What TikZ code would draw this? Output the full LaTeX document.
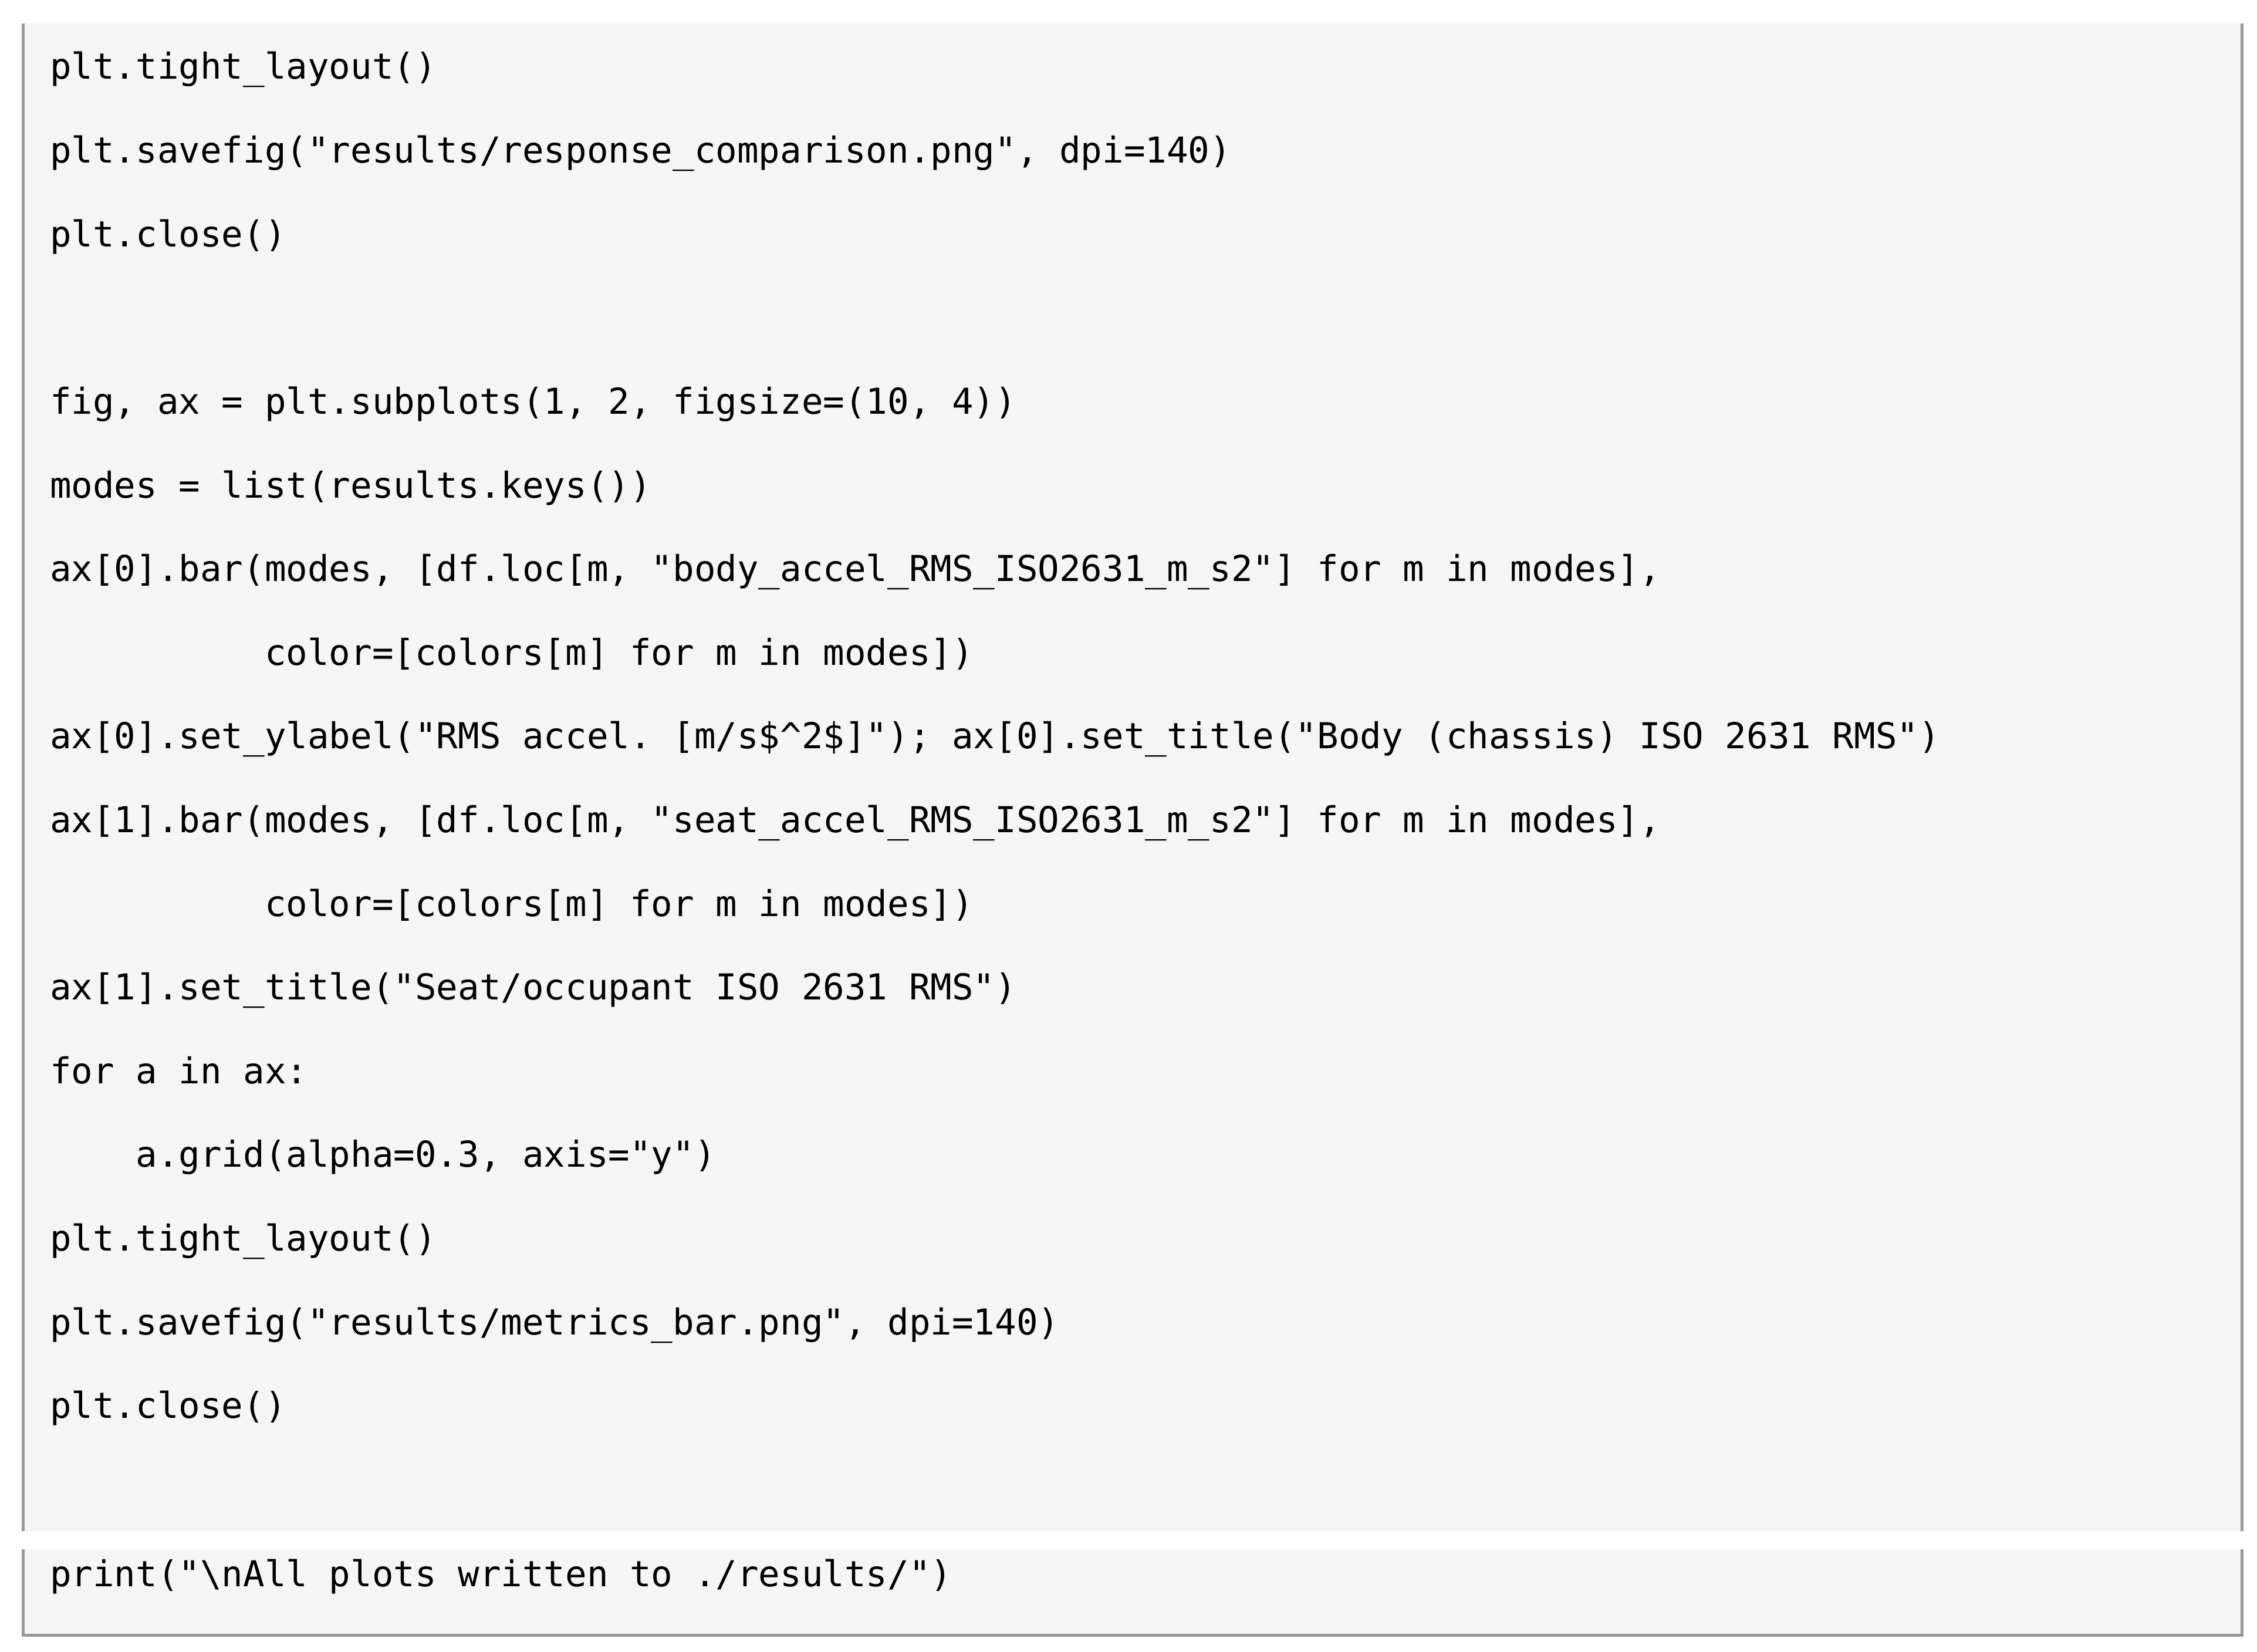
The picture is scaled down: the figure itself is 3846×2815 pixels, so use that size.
\documentclass[tikz,border=0pt]{standalone}
\usepackage{fontspec}
\newfontfamily\codefont{DejaVu Sans Mono}
\definecolor{codebg}{HTML}{F5F5F5}
\definecolor{codeborder}{HTML}{999999}
\tikzset{
  codeline/.style={anchor=base west, inner sep=0pt, outer sep=0pt, text=black,
    font={\codefont\fontsize{15.2pt}{18pt}\selectfont\frenchspacing}},
  bgpanel/.style={fill=codebg, draw=none},
  edge/.style={fill=codeborder, draw=none}
}
\begin{document}
\begin{tikzpicture}[x=0.25pt,y=-0.25pt]
\useasboundingbox[fill=white] (0,0) rectangle (3846,2815);
% block 1
\path[bgpanel] (37,40) rectangle (3823,2609);
\path[edge] (37,40) rectangle (42,2609);
\path[edge] (3818,40) rectangle (3823,2609);
% block 2
\path[bgpanel] (37,2640) rectangle (3823,2789);
\path[edge] (37,2640) rectangle (42,2789);
\path[edge] (3818,2640) rectangle (3823,2789);
\path[edge] (37,2784) rectangle (3823,2789);
% code lines
\def\lx{85}
\node[codeline] (l0)  at (\lx,135.0)  {plt.tight\_layout()};
\node[codeline] (l1)  at (\lx,277.6)  {plt.savefig("results/response\_comparison.png", dpi=140)};
\node[codeline] (l2)  at (\lx,420.2)  {plt.close()};
\node[codeline] (l4)  at (\lx,705.4)  {fig, ax = plt.subplots(1, 2, figsize=(10, 4))};
\node[codeline] (l5)  at (\lx,848.0)  {modes = list(results.keys())};
\node[codeline] (l6)  at (\lx,990.6)  {ax[0].bar(modes, [df.loc[m, "body\_accel\_RMS\_ISO2631\_m\_s2"] for m in modes],};
\node[codeline] (l7)  at (\lx,1133.2) {\hphantom{0000000000}color=[colors[m] for m in modes])};
\node[codeline] (l8)  at (\lx,1275.8) {ax[0].set\_ylabel("RMS accel. [m/s\$\textasciicircum 2\$]"); ax[0].set\_title("Body (chassis) ISO 2631 RMS")};
\node[codeline] (l9)  at (\lx,1418.4) {ax[1].bar(modes, [df.loc[m, "seat\_accel\_RMS\_ISO2631\_m\_s2"] for m in modes],};
\node[codeline] (l10) at (\lx,1561.0) {\hphantom{0000000000}color=[colors[m] for m in modes])};
\node[codeline] (l11) at (\lx,1703.6) {ax[1].set\_title("Seat/occupant ISO 2631 RMS")};
\node[codeline] (l12) at (\lx,1846.2) {for a in ax:};
\node[codeline] (l13) at (\lx,1988.8) {\hphantom{0000}a.grid(alpha=0.3, axis="y")};
\node[codeline] (l14) at (\lx,2131.4) {plt.tight\_layout()};
\node[codeline] (l15) at (\lx,2274.0) {plt.savefig("results/metrics\_bar.png", dpi=140)};
\node[codeline] (l16) at (\lx,2416.6) {plt.close()};
\node[codeline] (pr)  at (\lx,2703.0) {print("\textbackslash nAll plots written to ./results/")};
\end{tikzpicture}
\end{document}
